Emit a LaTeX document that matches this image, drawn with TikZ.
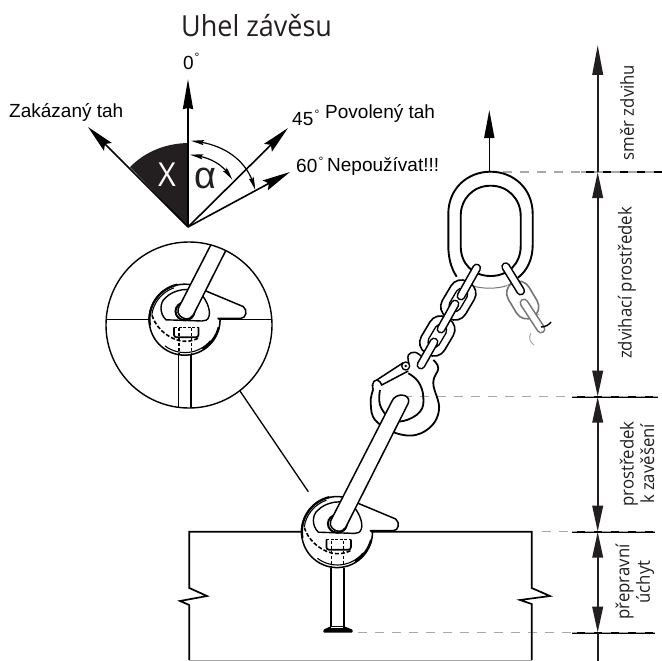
\documentclass[tikz,border=0pt]{standalone}
\usepackage{fontspec}
\setmainfont{Liberation Sans}
\newfontfamily\myr[FakeStretch=0.93]{Open Sans}
\usetikzlibrary{arrows.meta,bending}
\definecolor{ink}{HTML}{231F20}
\definecolor{gdash}{HTML}{A8A8A8}
\newcommand{\fs}[1]{\fontsize{#1}{#1}\selectfont}
\newcommand{\chainbar}[3][black]{%
  \draw[#1,line width=9pt,line cap=round] #2 -- #3;
  \draw[white,line width=5.8pt,line cap=round] #2 -- #3;}
\tikzset{
  ln/.style={black,line width=1.5pt},
  axis/.style={ink,line width=2.2pt},
  tickline/.style={black,line width=1.6pt},
  graydash/.style={gdash,line width=1.4pt,dash pattern=on 9pt off 8pt},
  vecthin/.style={black,line width=1.6pt,-{Stealth[length=28pt,width=11pt,inset=4pt]}},
  dimhead/.style={axis,{Triangle[length=26pt,width=10.5pt]}-{Triangle[length=26pt,width=10.5pt]}},
  arcline/.style={black,line width=1.2pt,{Stealth[length=13pt,width=5pt,inset=2pt,bend]}-{Stealth[length=13pt,width=5pt,inset=2pt,bend]}},
  label/.style={inner sep=0pt,font=\fs{19}},
  degmark/.style={inner sep=0pt,font=\fs{12}},
  sidetext/.style={inner sep=0pt,rotate=90,font=\myr\fontsize{18}{20.5}\selectfont,text=ink,align=center},
  facelink/.style={draw=black,line width=1.6pt,fill=white,minimum width=41pt,minimum height=27pt,rounded corners=12pt,inner sep=0pt,rotate=59.3},
  holelink/.style={draw=black,line width=1.3pt,fill=white,minimum width=24pt,minimum height=12pt,rounded corners=5pt,inner sep=0pt,rotate=59.3},
  lug/.pic={
    % body with tail
    \draw[black,line width=1.5pt,fill=white,line join=round]
      (20,-28.7) arc[start angle=-55,end angle=-360,radius=35.5]
      .. controls (35.7,3) and (35.5,-1) .. (33,-1) -- (56,-1)
      .. controls (61,-1) and (63,-9) .. (58.3,-12.7) -- cycle;
    \draw[black,line width=1.1pt] (-11,-31.5) arc[start angle=-109,end angle=-172,radius=33.4];
    \draw[black,line width=2.2pt] (-8,-34.6) arc[start angle=-103,end angle=-190,radius=35.5];
    \draw[black,line width=1.1pt] (-20,26.6) arc[start angle=-233,end angle=-320,radius=33.2];
    \draw[black,line width=2.2pt] (33.7,8) arc[start angle=-346,end angle=-300,radius=34.6];
    % window
    \draw[black,line width=1.4pt] (-19,0.5)
      .. controls (-26,-6) and (-25,-17) .. (-20,-21)
      .. controls (-12,-30) and (6,-33) .. (15,-26)
      .. controls (21,-21) and (26,-9) .. (24,-3)
      .. controls (23,1) and (20,1.7) .. (17,1.7) -- cycle;
    % dashed inner track
    \draw[black,line width=1.6pt,dash pattern=on 4pt off 2pt]
      (-33,-4) .. controls (-30,6) and (-20,18) .. (-5,21.5) .. controls (0,22.5) and (8,22) .. (13,19);
    % small pocket
    \draw[black,line width=1.7pt,rounded corners=2.5pt] (-11,8) -- (-11,18) -- (13.5,18) -- (13.5,8);
    \draw[black,line width=1.2pt,dash pattern=on 3pt off 1.5pt] (-11,8) -- (13.5,8);
    \draw[black,line width=1.2pt,dash pattern=on 3pt off 2pt] (-6,9) -- (-6,35) (6.3,9) -- (6.3,35);
    % stud and head
    \draw[black,line width=1.7pt] (-6.4,36) -- (-6.4,95) (6.3,36) -- (6.3,95);
    \fill[black,rounded corners=1pt] (-6.4,94.5) -- (6.3,94.5) -- (15.3,98) -- (15.3,101) -- (-14,101) -- (-14,98) -- cycle;
    \draw[white,line width=.5pt] (-6,96) -- (6,96);
    % loop round bar end
    \draw[black,line width=2pt] (0,-8) ellipse[x radius=9.5,y radius=9];
    % bar
    \draw[black,line width=1.5pt,fill=white,line join=round] (54.3,-130) -- (-6.7,-11)
      .. controls (-9,-5) and (-3,-1) .. (0.5,-0.5)
      .. controls (4,0) and (7,-2) .. (8.3,-4.3) -- (71,-128.7)
      .. controls (74,-138) and (58,-140) .. cycle;
  }
}
\begin{document}
\begin{tikzpicture}[x=1pt,y=-1pt]
\useasboundingbox (0,0) rectangle (662,661);
\fill[white] (0,0) rectangle (662,661);

% ---- title and angle diagram
\node[inner sep=0pt,anchor=west,font=\myr\fs{29},text=ink] (title) at (181,26) {Uhel závěsu};
\coordinate (o) at (188,227);
\coordinate (v0) at (188,79);
\coordinate (vl) at (88,127);
\coordinate (v45) at (288,128);
\coordinate (v60) at (290,172);
\fill[ink] (o) -- (130,167) .. controls (146,151) and (166,143.5) .. (188,143) -- cycle;
\draw[vecthin,line width=2pt,-{Stealth[length=30pt,width=10pt,inset=1pt]}] (o) -- (v0);
\draw[vecthin] (o) -- (vl);
\draw[vecthin] (o) -- (v45);
\draw[vecthin] (o) -- (v60);
\coordinate (a1) at (191,141);
\coordinate (a2) at (255,190);
\coordinate (b1) at (190,155);
\coordinate (b2) at (232,180);
\draw[arcline] (a1) .. controls (222,143) and (249,160) .. (a2);
\draw[arcline] (b1) .. controls (209,156) and (225,165) .. (b2);
\node[inner sep=0pt,text=white,font=\myr\fs{33}] (xmark) at (167,175) {X};
\node[inner sep=0pt,text=ink,font=\fs{38}] (alpha) at (205.5,178) {α};
\node[label,anchor=west] (lab0) at (183,63) {0};
\node[degmark] (deg0) at (197,57.5) {°};
\node[label,anchor=west] (labz) at (9,112) {Zakázaný tah};
\node[label,anchor=west] (lab45) at (292,119) {45};
\node[degmark] (deg45) at (317,114) {°};
\node[label,anchor=west] (labp) at (325,113) {Povolený tah};
\node[label,anchor=west] (lab60) at (296,166) {60};
\node[degmark] (deg60) at (321,161) {°};
\node[label,anchor=west] (labn) at (327,166) {Nepoužívat!!!};

% ---- right dimension column
\coordinate (t0) at (597.7,45);
\coordinate (t1) at (597.7,172);
\coordinate (t2) at (597.7,396.7);
\coordinate (t3) at (597.7,531.7);
\coordinate (t4) at (597.7,632.7);
\coordinate (t5) at (597.7,661);
\draw[graydash] (503,172) -- (662,172);
\draw[graydash] (403,396.7) -- (658,396.7);
\draw[graydash] (542,531.7) -- (572,531.7);
\draw[graydash] (358,632.7) -- (572,632.7);
\draw[tickline] (581,172) -- (662,172);
\draw[tickline] (572,396.7) -- (658,396.7);
\draw[tickline] (572,531.7) -- (655,531.7);
\draw[tickline] (572,632.7) -- (655,632.7);
\draw[graydash,dash phase=4pt] (581,172) -- (662,172);
\draw[graydash,dash phase=4pt] (572,396.7) -- (658,396.7);
\draw[graydash,dash phase=4pt] (572,531.7) -- (655,531.7);
\draw[graydash,dash phase=4pt] (572,632.7) -- (655,632.7);
\draw[axis,-{Triangle[length=30pt,width=10.5pt]}] (t1) -- (t0);
\draw[dimhead] (t1) -- (t2);
\draw[dimhead] (t2) -- (t3);
\draw[dimhead] (t3) -- (t4);
\draw[axis] (t4) -- (t5);
\node[sidetext] (s1) at (627,112.5) {směr zdvihu};
\node[sidetext] (s2) at (627,283) {zdvihací prostředek};
\node[sidetext] (s3) at (637,464) {prostředek\\k zavěšení};
\node[sidetext] (s4) at (635,582) {přepravní\\úchyt};

% ---- plate
\draw[black,line width=1.7pt] (340,531.7) -- (189.3,531.7) -- (189.3,588) -- (207,596) -- (180,601) -- (189.3,605) -- (189.3,660);
\draw[black,line width=1.7pt] (340,531.7) -- (531.7,531.7) -- (531.7,588) -- (550,596) -- (520,600) -- (531.7,604) -- (531.7,660);
\draw[gdash,line width=1pt] (189.3,660) -- (531.7,660);

% ---- master ring
\coordinate (ringtop) at (489.3,172);
\coordinate (ringtip) at (489.3,110);
\draw[black,line width=1.6pt,-{Triangle[length=28pt,width=10pt]}] (ringtop) -- (ringtip);
\draw[gdash!70!black,line width=1pt] (471.7,285.7) .. controls (482,289) and (497,289) .. (506.7,285.7);
\draw[black,line width=1.9pt] (456.7,276.7)
  .. controls (451,268) and (448.3,258) .. (448.3,245) -- (448.3,214)
  .. controls (448.3,188) and (468,171.7) .. (490.5,171.7)
  .. controls (513,171.7) and (532.7,188) .. (532.7,214) -- (532.7,245)
  .. controls (532.7,258) and (528,270) .. (518,277.7);
\draw[black,line width=1.9pt] (490.7,185.7)
  .. controls (473,185.7) and (460.7,199) .. (460.7,216) -- (460.7,246)
  .. controls (460.7,264) and (473,276) .. (490.7,276)
  .. controls (508,276) and (520.7,264) .. (520.7,246) -- (520.7,216)
  .. controls (520.7,199) and (508,185.7) .. (490.7,185.7) -- cycle;

% ---- right chain (faded)
\node[facelink,rotate=-118.6,draw=gdash!70!black,minimum width=40pt,minimum height=24pt] (rl1) at (522.7,300) {};
\chainbar[gdash!70!black]{(524,303)}{(541,329)}
\chainbar{(505.7,266.7)}{(520.7,291)}
\coordinate (rh1) at (541,327);
\coordinate (rh2) at (551,322);
\draw[black,line width=1.4pt] (rh1) .. controls (545,327) and (549,325) .. (rh2);
\draw[gdash,line width=1pt] (531,333) .. controls (528,338) and (530,342) .. (534,345);

% ---- hook
\draw[ln,line width=1.8pt] plot[smooth,tension=.7] coordinates {(373.3,389.3) (370.7,403.3) (376.7,421.7) (403.3,435) (426.7,430) (439,410) (433.3,383.3) (438.3,368.3) (433.3,360)};
\draw[ln,line width=1.8pt] plot[smooth,tension=.7] coordinates {(380,390) (380,405) (390,418.3) (403.3,421) (420,411.7) (423.3,396.7) (418.3,381.7) (408.3,373.3)};
\draw[ln] plot[smooth,tension=.7] coordinates {(409,364) (408.3,355) (415,352.3) (421,356)};
\draw[ln,line join=round] (403.3,362.7) -- (376.7,380) .. controls (372,380) and (372,388) .. (373.3,389.3);
\draw[ln] (376.7,380) .. controls (380,381) and (381,383) .. (381.7,385) -- (408.3,371);
\draw[ln] (373,385) -- (372,386);
\node[draw=black,line width=1.3pt,fill=white,circle,minimum size=8pt,inner sep=0pt] (pivot) at (405.7,366) {};
\fill[black] (pivot) circle[radius=1.4];

% ---- left chain
\node[facelink] (l1) at (458.3,300) {};
\node[holelink] (h1) at (458.3,300) {};
\node[facelink] (l2) at (437.3,336) {};
\node[holelink] (h2) at (437.3,336) {};
\chainbar{(476.7,268)}{(461,296)}
\chainbar{(455,304)}{(441,329)}
\chainbar{(434,342)}{(421,365)}

% ---- lug on the plate
\pic (lugmain) at (337.4,531.7) {lug};

% ---- detail circle
\coordinate (dc) at (189,325);
\begin{scope}
  \clip (dc) circle[radius=83];
  \draw[black,line width=1.4pt] (100,319.3) -- (278,319.3);
  \pic (lugdetail) at (185,319.3) {lug};
\end{scope}
\draw[black,line width=1.4pt] (dc) circle[radius=83];
\coordinate (p1) at (240,391);
\coordinate (p2) at (308.3,491.7);
\draw[black,line width=1.3pt] (p1) -- (p2);
\end{tikzpicture}
\end{document}
